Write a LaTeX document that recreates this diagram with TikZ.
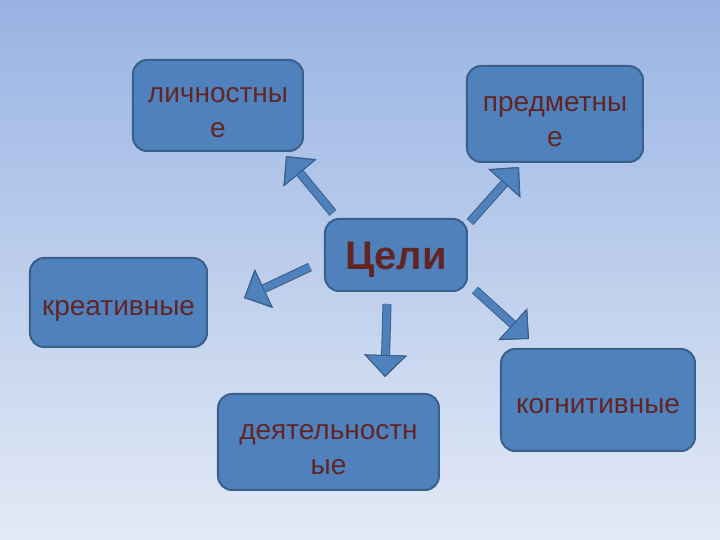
\documentclass[tikz,border=0pt]{standalone}
\usepackage{fontspec}
\setmainfont{Liberation Sans}
\usetikzlibrary{arrows.meta}
\definecolor{boxblue}{HTML}{4F81BD}
\definecolor{boxedge}{HTML}{3A5F8B}
\definecolor{textred}{HTML}{632523}
\definecolor{bgtop}{HTML}{98B3E3}
\definecolor{bgbottom}{HTML}{E3EAF6}

\begin{document}
\begin{tikzpicture}[x=0.5pt,y=-0.5pt,
    box/.style={draw=boxedge,line width=1pt,fill=boxblue,rounded corners=7pt,
      text=textred,align=center,inner sep=0pt,text height=16.7pt,text depth=3.5pt,
      font=\fontsize{14}{17.5}\selectfont},
    twolines/.style={text height=36pt,text depth=3.5pt},
    goalarrow/.style={draw=boxblue,line width=3.5pt,
      -{Triangle[width=21pt,length=11pt,line width=0.5pt,color=boxedge,fill=boxblue]},
      preaction={draw=boxedge,line width=4.5pt,-{Triangle[width=21pt,length=11pt]}}}]
      \fill[top color=bgtop,bottom color=bgbottom] (0,0) rectangle (720,540);
      \useasboundingbox (0,0) rectangle (720,540);

      \node[box,minimum width=71pt,minimum height=36pt,text height=15.5pt,text depth=1pt,
        font=\bfseries\fontsize{20}{24}\selectfont] (goal) at (396,255) {Цели};
      \node[box,twolines,minimum width=85pt,minimum height=45.5pt] (lichn) at (218,105.5) {личностны\\е};
      \node[box,twolines,minimum width=88pt,minimum height=48pt] (predm) at (555,114) {предметны\\е};
      \node[box,minimum width=88.5pt,minimum height=44.5pt] (kreat) at (118.5,302.5) {креативные};
      \node[box,twolines,minimum width=110.5pt,minimum height=48pt] (deyat) at (328.5,442) {деятельностн\\ые};
      \node[box,minimum width=97pt,minimum height=51pt] (kogn) at (598,400) {когнитивные};

      % free ends of the block arrows
      \coordinate (lichn-from) at (333,213);
      \coordinate (lichn-to) at (286,156);
      \coordinate (predm-from) at (470,222);
      \coordinate (predm-to) at (519,167);
      \coordinate (kreat-from) at (310,267);
      \coordinate (kreat-to) at (244,298);
      \coordinate (deyat-from) at (387,304);
      \coordinate (deyat-to) at (385,377);
      \coordinate (kogn-from) at (475,290);
      \coordinate (kogn-to) at (529,339);

      \draw[goalarrow] (lichn-from) -- (lichn-to);
      \draw[goalarrow] (predm-from) -- (predm-to);
      \draw[goalarrow] (kreat-from) -- (kreat-to);
      \draw[goalarrow] (deyat-from) -- (deyat-to);
      \draw[goalarrow] (kogn-from) -- (kogn-to);
    \end{tikzpicture}
\end{document}
